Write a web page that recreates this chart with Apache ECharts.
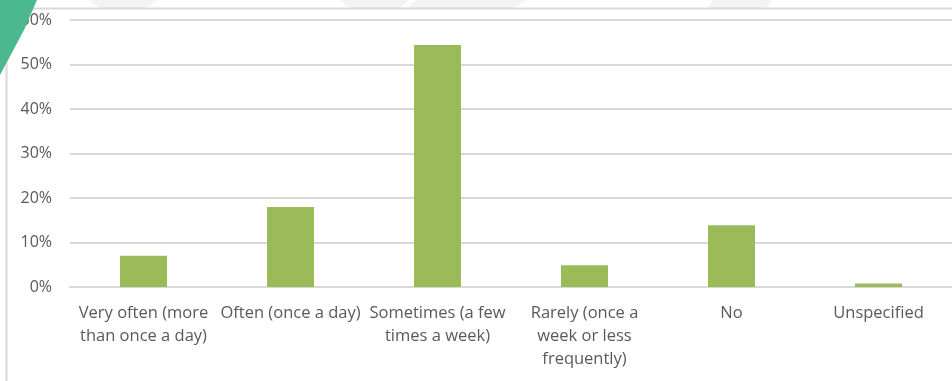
<!DOCTYPE html>
<html>
<head>
<meta charset="utf-8">
<script src="https://cdn.jsdelivr.net/npm/echarts@6/dist/echarts.min.js"></script>
<style>
  html, body { margin: 0; padding: 0; background: #ffffff; }
  #chart { width: 952px; height: 381px; }
</style>
</head>
<body>
<div id="chart"></div>
<script>
// Survey answers: how often respondents do the activity
var categories = [
  'Very often (more\nthan once a day)',
  'Often (once a day)',
  'Sometimes (a few\ntimes a week)',
  'Rarely (once a\nweek or less\nfrequently)',
  'No',
  'Unspecified'
];
var shares = [7.0, 18.0, 54.4, 4.9, 13.9, 0.8];   // percent of respondents
var yTicks = [0, 10, 20, 30, 40, 50, 60];        // percent

var chart = echarts.init(document.getElementById('chart'), null, { renderer: 'canvas' });

var textColor = '#595959';
var lineColor = '#d9d9d9';
var font = '"Open Sans", "Liberation Sans", sans-serif';

chart.setOption({
  animation: false,
  backgroundColor: '#ffffff',
  grid: { left: 70, top: 20, width: 889, height: 267, containLabel: false },
  xAxis: {
    type: 'category',
    data: categories,
    axisLine: { show: true, lineStyle: { color: lineColor, width: 2 } },
    axisTick: { show: false },
    axisLabel: {
      color: textColor, fontFamily: font, fontSize: 16.5,
      lineHeight: 23, margin: 15, interval: 0, align: 'center'
    }
  },
  yAxis: {
    type: 'value',
    min: yTicks[0],
    max: yTicks[yTicks.length - 1],
    interval: yTicks[1] - yTicks[0],
    axisLine: { show: false },
    axisTick: { show: false },
    splitLine: { lineStyle: { color: lineColor, width: 2 } },
    axisLabel: {
      color: textColor, fontFamily: font, fontSize: 16, margin: 18,
      formatter: function (v) { return v + '%'; }
    }
  },
  series: [{
    type: 'bar',
    data: shares,
    barWidth: 47,
    itemStyle: { color: '#9bbb59' }
  }],
  graphic: [
    // faint chevron shapes along the top edge
    { type: 'polygon', z: -1, shape: { points: [[88, 0], [157, 0], [147, 8], [100, 8]] }, style: { fill: '#f3f3f3' } },
    { type: 'polygon', z: -1, shape: { points: [[340, 0], [410, 0], [400, 8], [350, 8]] }, style: { fill: '#f3f3f3' } },
    { type: 'polygon', z: -1, shape: { points: [[416, 0], [527, 0], [513, 8], [407, 8]] }, style: { fill: '#f3f3f3' } },
    { type: 'polygon', z: -1, shape: { points: [[713, 0], [772, 0], [767, 8], [707, 8]] }, style: { fill: '#f3f3f3' } },
    // frame lines
    { type: 'line', z: 5, shape: { x1: 0, y1: 8.5, x2: 952, y2: 8.5 }, style: { stroke: lineColor, lineWidth: 2 } },
    { type: 'line', z: 5, shape: { x1: 6.5, y1: 8, x2: 6.5, y2: 381 }, style: { stroke: lineColor, lineWidth: 2 } },
    // green corner accent
    { type: 'polygon', z: 10, shape: { points: [[0, 0], [37, 0], [24, 30], [0, 75]] }, style: { fill: '#4cb88f' } }
  ]
});
</script>
</body>
</html>
